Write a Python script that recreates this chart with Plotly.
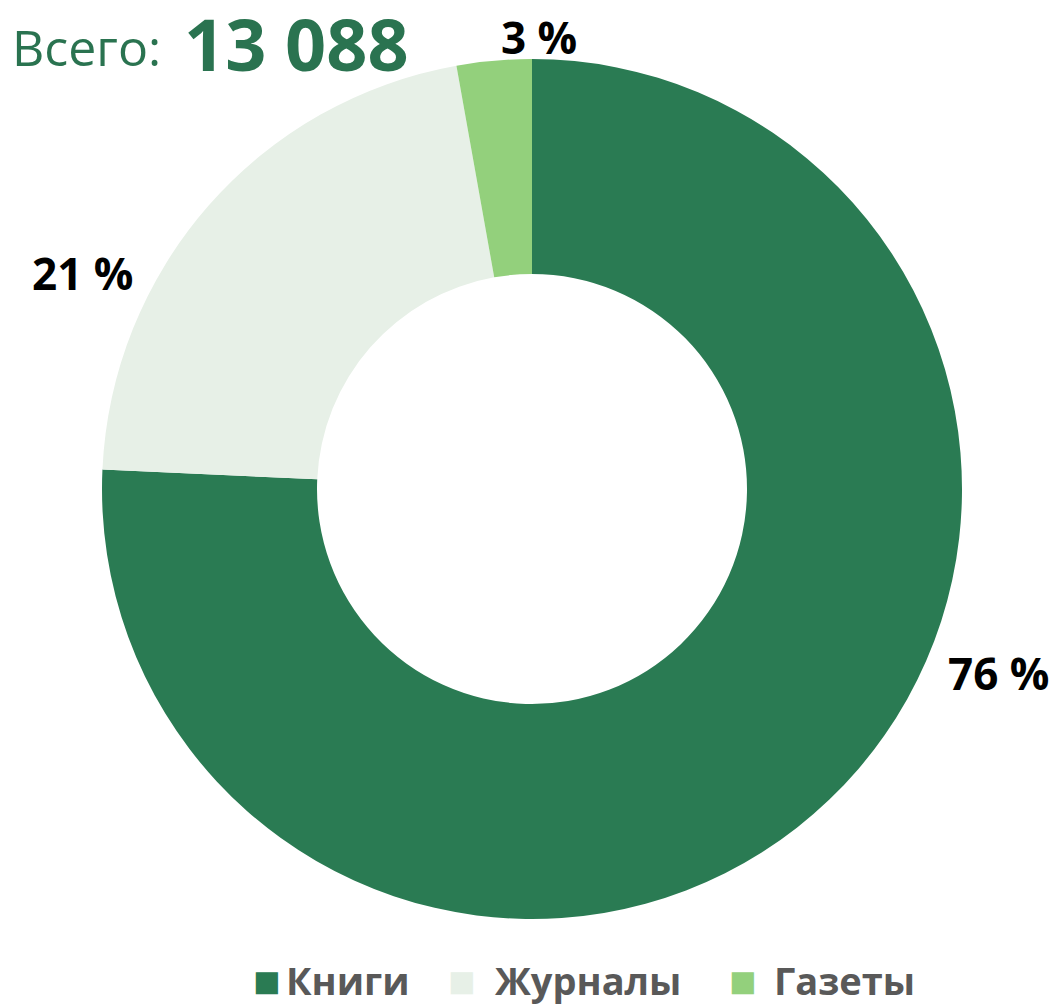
import plotly.graph_objects as go

categories = ["Книги", "Журналы", "Газеты"]
values = [9910, 2810, 368]
colors = ["#2a7b53", "#e7f0e7", "#93d07c"]
total_label = "13 088"
title_prefix = "Всего:"

W, H = 1061, 1005
FONT = "Open Sans"

def px(x):
    return x / W

def py(y):
    return 1 - y / H

# percent label centres (pixels), in category order
label_px = [(990, 665), (74, 265), (531, 29)]
# legend item centres (square, text) in pixels
legend_sq_x = [258, 453, 734]
legend_tx_x = [340, 580, 836]
legend_y = 972

fig = go.Figure()
fig.add_trace(go.Pie(
    labels=categories,
    values=values,
    hole=0.5,
    sort=False,
    direction="clockwise",
    rotation=0,
    marker=dict(colors=colors, line=dict(width=0)),
    textinfo="none",
    hoverinfo="label+value+percent",
    showlegend=False,
    domain=dict(x=[px(94), px(954)], y=[py(911), py(51)]),
))

tot = sum(values)
annotations = []
for c, v, (x, y) in zip(categories, values, label_px):
    annotations.append(dict(
        x=px(x), y=py(y), xref="paper", yref="paper", showarrow=False,
        text=f"<b>{round(100 * v / tot)} %</b>",
        font=dict(family=FONT, size=44, color="#000000"),
        xanchor="center", yanchor="middle",
    ))

# title
annotations.append(dict(
    x=px(2), y=py(39), xref="paper", yref="paper", showarrow=False,
    xanchor="left", yanchor="middle",
    text=title_prefix,
    font=dict(family=FONT, size=50, color="#2a7350"),
))
annotations.append(dict(
    x=px(174), y=py(35), xref="paper", yref="paper", showarrow=False,
    xanchor="left", yanchor="middle",
    text=f"<b>{total_label}</b>",
    font=dict(family=FONT, size=72, color="#2a7350"),
))

# legend
for c, col, sx, tx in zip(categories, colors, legend_sq_x, legend_tx_x):
    annotations.append(dict(
        x=px(sx), y=py(legend_y + 1), xref="paper", yref="paper", showarrow=False,
        xanchor="center", yanchor="middle",
        text="■", font=dict(family="DejaVu Sans", size=29, color=col),
    ))
    annotations.append(dict(
        x=px(tx), y=py(legend_y), xref="paper", yref="paper", showarrow=False,
        xanchor="center", yanchor="middle",
        text=f"<b>{c}</b>", font=dict(family=FONT, size=38, color="#595959"),
    ))

fig.update_layout(
    width=W, height=H,
    margin=dict(l=0, r=0, t=0, b=0),
    paper_bgcolor="white",
    plot_bgcolor="white",
    annotations=annotations,
)

fig.write_html("out.html")
